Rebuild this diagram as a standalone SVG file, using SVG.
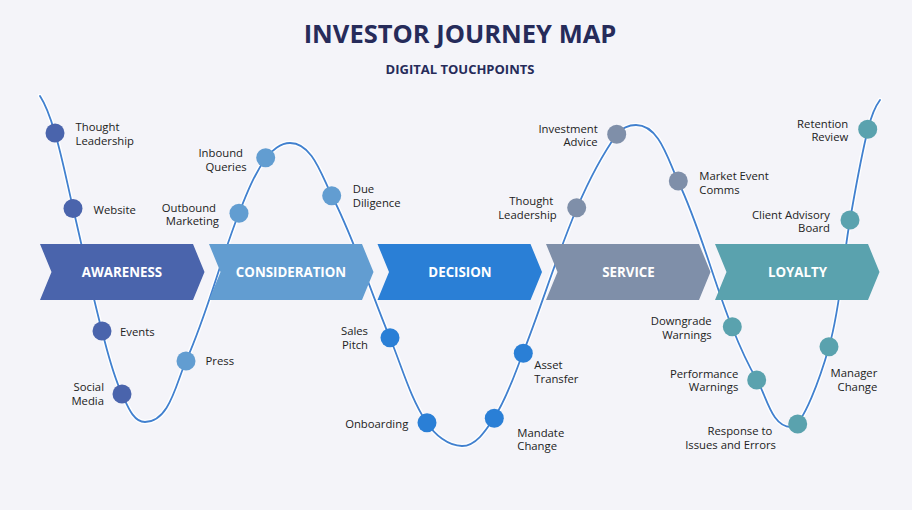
<svg xmlns="http://www.w3.org/2000/svg" width="912" height="510" viewBox="0 0 912 510">
<style>
.t{font-family:"Open Sans","Noto Sans","Liberation Sans",sans-serif;font-size:11.3px;fill:#222}
.e{text-anchor:end}
.stage{font-family:"Open Sans","Noto Sans","Liberation Sans",sans-serif;font-size:13.3px;font-weight:700;fill:#fff;text-anchor:middle}
.aw{fill:#4A64AC}.co{fill:#629DD1}.de{fill:#2A7FD6}.se{fill:#7F8FA9}.lo{fill:#5AA2AE}
</style>
<defs>
<path id="ch" d="M0,0 H153 L164.5,28 L153,56 H0 L11.5,28 Z"/>
<path id="wave" d="M40,96 C47.3,107.1 51.2,120.2 55,133 C62.3,157.6 67.1,183 73,208 C82.7,249 91.3,290.3 102,331 C107.6,352.3 112.6,374.1 122,394 C127.2,404.9 132.9,422 145,422 C169.5,422 176,383.3 186,361 C207.5,313.2 219.8,261.7 239,213 C246.5,194 254,174.5 266,158 C271.5,150.4 280.6,143 290,143 C312.5,143 321.7,176 332,196 C355.3,241.5 370.3,290.9 390,338 C401.9,366.5 409.9,397.3 427,423 C434.8,434.6 448,446 462,446 C476.2,446 486.2,429.9 494,418 C507,398.2 514.3,375 523,353 C542,305 556.7,255.4 577,208 C588,182.3 600.8,156.8 617,134 C621.1,128.3 629,125 636,125 C659.3,125 668,160 678,181 C700.3,227.9 712.8,278.8 732,327 C739.2,345.1 747.1,363.2 757,380 C766.8,396.6 771.7,427 791,427 C803,427 820.9,375.4 829,347 C840.8,305.7 842.4,262.2 850,220 C855.4,189.6 860.5,159 868,129 C870.6,118.8 873.7,108.4 880,100"/>
</defs>
<rect width="912" height="510" fill="#F4F4F9"/>
<text x="460" y="43" text-anchor="middle" font-family="'Open Sans','Noto Sans','Liberation Sans',sans-serif" font-size="25.5" font-weight="700" fill="#262B5A">INVESTOR JOURNEY MAP</text>
<text x="460" y="73.5" text-anchor="middle" font-family="'Open Sans','Noto Sans','Liberation Sans',sans-serif" font-size="13" font-weight="700" fill="#262B5A">DIGITAL TOUCHPOINTS</text>

<g id="connectors" fill="none" stroke-linecap="round">
<use href="#wave" stroke="#ffffff" stroke-width="4.5"/>
<use href="#wave" stroke="#4180CF" stroke-width="1.8"/>
</g>

<g id="stage-awareness"><use href="#ch" x="40" y="244" class="aw"/><text class="stage" x="122" y="277">AWARENESS</text></g>
<g id="stage-consideration"><use href="#ch" x="209" y="244" class="co"/><text class="stage" x="291" y="277">CONSIDERATION</text></g>
<g id="stage-decision"><use href="#ch" x="377.5" y="244" class="de"/><text class="stage" x="460" y="277">DECISION</text></g>
<g id="stage-service"><use href="#ch" x="546" y="244" class="se"/><text class="stage" x="628.5" y="277">SERVICE</text></g>
<g id="stage-loyalty"><use href="#ch" x="715" y="244" class="lo"/><text class="stage" x="797.5" y="277">LOYALTY</text></g>

<g id="aw-thought-leadership"><circle cx="55" cy="133" r="9.5" class="aw"/><text class="t" x="75.5" y="130.5">Thought</text><text class="t" x="75.5" y="144.5">Leadership</text></g>
<g id="aw-website"><circle cx="73" cy="208.5" r="9.5" class="aw"/><text class="t" x="93.5" y="213.5">Website</text></g>
<g id="aw-events"><circle cx="102" cy="331" r="9.5" class="aw"/><text class="t" x="120" y="335.5">Events</text></g>
<g id="aw-social-media"><circle cx="122" cy="394" r="9.5" class="aw"/><text class="t e" x="104" y="391.3">Social</text><text class="t e" x="104" y="404.5">Media</text></g>
<g id="co-press"><circle cx="186" cy="361" r="9.5" class="co"/><text class="t" x="205.5" y="364.5">Press</text></g>
<g id="co-outbound-marketing"><circle cx="239" cy="213.3" r="9.5" class="co"/><text class="t e" x="216" y="211.5">Outbound</text><text class="t e" x="219" y="225">Marketing</text></g>
<g id="co-inbound-queries"><circle cx="265.7" cy="157.7" r="9.5" class="co"/><text class="t e" x="243" y="157">Inbound</text><text class="t e" x="246.7" y="170.5">Queries</text></g>
<g id="co-due-diligence"><circle cx="331.7" cy="195.7" r="9.5" class="co"/><text class="t" x="352.7" y="193">Due</text><text class="t" x="352.7" y="206.5">Diligence</text></g>
<g id="de-sales-pitch"><circle cx="390" cy="337.7" r="9.5" class="de"/><text class="t e" x="368" y="335">Sales</text><text class="t e" x="368" y="348.5">Pitch</text></g>
<g id="de-onboarding"><circle cx="427" cy="422.7" r="9.5" class="de"/><text class="t e" x="408.3" y="427.5">Onboarding</text></g>
<g id="de-mandate-change"><circle cx="494.3" cy="418.3" r="9.5" class="de"/><text class="t" x="517.3" y="436.5">Mandate</text><text class="t" x="517.3" y="450">Change</text></g>
<g id="de-asset-transfer"><circle cx="523.3" cy="353.3" r="9.5" class="de"/><text class="t" x="534.3" y="368.5">Asset</text><text class="t" x="534.3" y="382.5">Transfer</text></g>
<g id="se-thought-leadership"><circle cx="576.7" cy="207.7" r="9.5" class="se"/><text class="t e" x="553.3" y="205">Thought</text><text class="t e" x="556.7" y="219">Leadership</text></g>
<g id="se-investment-advice"><circle cx="616.7" cy="134.3" r="9.5" class="se"/><text class="t e" x="597.7" y="132.5">Investment</text><text class="t e" x="597.7" y="146">Advice</text></g>
<g id="se-market-event-comms"><circle cx="678.3" cy="181" r="9.5" class="se"/><text class="t" x="699.3" y="179.5">Market Event</text><text class="t" x="699.3" y="193.5">Comms</text></g>
<g id="lo-downgrade-warnings"><circle cx="732.3" cy="326.7" r="9.5" class="lo"/><text class="t e" x="711.7" y="325">Downgrade</text><text class="t e" x="711.7" y="338.5">Warnings</text></g>
<g id="lo-performance-warnings"><circle cx="756.7" cy="380" r="9.5" class="lo"/><text class="t e" x="738.3" y="377.5">Performance</text><text class="t e" x="738.3" y="391">Warnings</text></g>
<g id="lo-response"><circle cx="797.7" cy="424" r="9.5" class="lo"/><text class="t e" x="772.3" y="434.5">Response to</text><text class="t e" x="776" y="448.5">Issues and Errors</text></g>
<g id="lo-manager-change"><circle cx="829" cy="346.7" r="9.5" class="lo"/><text class="t e" x="877.3" y="376.5">Manager</text><text class="t e" x="877.3" y="390.5">Change</text></g>
<g id="lo-client-advisory-board"><circle cx="850" cy="220" r="9.5" class="lo"/><text class="t e" x="830" y="218.5">Client Advisory</text><text class="t e" x="830" y="232">Board</text></g>
<g id="lo-retention-review"><circle cx="867.7" cy="129.3" r="9.5" class="lo"/><text class="t e" x="848.3" y="127.5">Retention</text><text class="t e" x="848.3" y="141">Review</text></g>
</svg>
